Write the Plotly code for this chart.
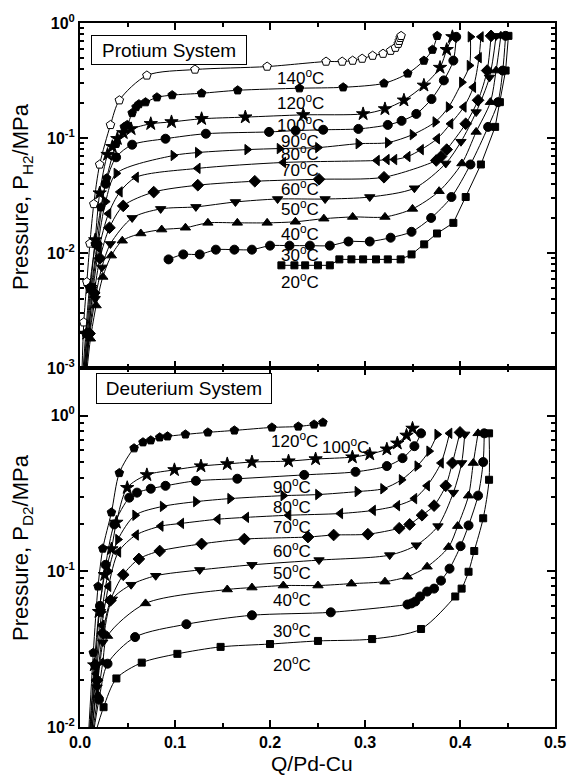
import plotly.graph_objects as go
import math

FONT = "Liberation Sans, Arial, sans-serif"

# ---------------- Protium system (top panel) ----------------
H140_q = [0.002, 0.004, 0.0072, 0.0104, 0.0145, 0.0207, 0.0321, 0.0414, 0.0704, 0.121, 0.197, 0.259, 0.276, 0.287, 0.297, 0.308, 0.319, 0.327, 0.332, 0.335, 0.336, 0.337, 0.338]
H140_p = [0.0009, 0.0025, 0.0056, 0.0121, 0.0267, 0.0589, 0.130, 0.213, 0.350, 0.394, 0.418, 0.462, 0.462, 0.471, 0.490, 0.520, 0.541, 0.574, 0.610, 0.660, 0.700, 0.743, 0.773]

H120_q = [0.003, 0.006, 0.010, 0.016, 0.022, 0.028, 0.038, 0.0466, 0.0497, 0.0549, 0.059, 0.062, 0.069, 0.081, 0.097, 0.128, 0.166, 0.231, 0.277, 0.320, 0.345, 0.362, 0.371, 0.376]
H120_p = [0.0009, 0.002, 0.005, 0.012, 0.025, 0.0447, 0.089, 0.125, 0.130, 0.165, 0.186, 0.197, 0.205, 0.226, 0.236, 0.245, 0.260, 0.271, 0.276, 0.299, 0.364, 0.471, 0.586, 0.773]

H100_q = [0.004, 0.007, 0.011, 0.016, 0.0207, 0.029, 0.034, 0.0393, 0.0455, 0.0538, 0.0745, 0.0963, 0.128, 0.174, 0.235, 0.298, 0.321, 0.341, 0.362, 0.379, 0.386, 0.392]
H100_p = [0.0009, 0.002, 0.005, 0.013, 0.0332, 0.0718, 0.084, 0.0986, 0.111, 0.120, 0.133, 0.138, 0.147, 0.152, 0.159, 0.162, 0.179, 0.213, 0.287, 0.410, 0.586, 0.758]

H90_q = [0.004, 0.008, 0.012, 0.018, 0.027, 0.038, 0.0549, 0.090, 0.1325, 0.199, 0.227, 0.256, 0.293, 0.324, 0.3385, 0.354, 0.370, 0.383, 0.393, 0.396]
H90_p = [0.0009, 0.002, 0.005, 0.012, 0.040, 0.068, 0.0875, 0.0986, 0.109, 0.113, 0.116, 0.118, 0.120, 0.130, 0.141, 0.162, 0.218, 0.317, 0.471, 0.758]

H80_q = [0.005, 0.009, 0.013, 0.019, 0.027, 0.0383, 0.0983, 0.124, 0.176, 0.210, 0.2505, 0.293, 0.324, 0.350, 0.374, 0.388, 0.402, 0.410, 0.411]
H80_p = [0.0009, 0.002, 0.005, 0.012, 0.028, 0.0493, 0.0705, 0.0748, 0.0793, 0.081, 0.0826, 0.0893, 0.0912, 0.107, 0.138, 0.186, 0.305, 0.427, 0.758]

H70_q = [0.005, 0.009, 0.014, 0.020, 0.030, 0.042, 0.059, 0.124, 0.214, 0.3126, 0.323, 0.331, 0.345, 0.359, 0.376, 0.390, 0.404, 0.414, 0.420, 0.422]
H70_p = [0.0009, 0.002, 0.005, 0.011, 0.022, 0.034, 0.0456, 0.0545, 0.0613, 0.0638, 0.065, 0.065, 0.069, 0.0793, 0.0986, 0.133, 0.186, 0.276, 0.500, 0.758]

H60_q = [0.006, 0.010, 0.015, 0.021, 0.031, 0.0455, 0.0776, 0.124, 0.184, 0.2516, 0.320, 0.375, 0.380, 0.386, 0.406, 0.419, 0.4286, 0.4327]
H60_p = [0.0009, 0.002, 0.0045, 0.009, 0.0166, 0.0257, 0.0339, 0.0389, 0.0421, 0.0438, 0.0456, 0.0638, 0.069, 0.0793, 0.133, 0.213, 0.386, 0.773]

H50_q = [0.006, 0.010, 0.016, 0.023, 0.032, 0.0549, 0.0849, 0.122, 0.1636, 0.208, 0.258, 0.305, 0.352, 0.385, 0.401, 0.417, 0.431, 0.438]
H50_p = [0.0009, 0.0019, 0.004, 0.0075, 0.012, 0.0202, 0.0242, 0.0252, 0.0278, 0.0295, 0.0295, 0.0307, 0.0366, 0.0601, 0.0929, 0.168, 0.336, 0.773]

H40_q = [0.007, 0.011, 0.017, 0.024, 0.033, 0.0445, 0.064, 0.086, 0.111, 0.1346, 0.1656, 0.197, 0.2267, 0.2567, 0.287, 0.321, 0.350, 0.378, 0.402, 0.417, 0.432, 0.438, 0.443]
H40_p = [0.0009, 0.0018, 0.0035, 0.0062, 0.0095, 0.0128, 0.0148, 0.016, 0.0166, 0.0183, 0.0183, 0.0183, 0.0187, 0.0199, 0.0206, 0.0206, 0.0242, 0.0345, 0.0601, 0.113, 0.205, 0.386, 0.773]

H30_q = [0.0932, 0.1087, 0.126, 0.143, 0.1625, 0.181, 0.200, 0.2205, 0.242, 0.263, 0.2826, 0.305, 0.327, 0.349, 0.3696, 0.391, 0.411, 0.4296, 0.440, 0.445, 0.448]
H30_p = [0.00881, 0.00973, 0.00973, 0.0107, 0.0107, 0.0107, 0.0116, 0.0116, 0.0116, 0.0116, 0.0126, 0.0126, 0.0136, 0.0153, 0.0202, 0.0307, 0.0589, 0.125, 0.205, 0.386, 0.773]

H20_q = [0.212, 0.2257, 0.237, 0.2505, 0.263, 0.273, 0.2857, 0.298, 0.3116, 0.324, 0.3375, 0.349, 0.3623, 0.3758, 0.393, 0.406, 0.422, 0.437, 0.442, 0.448, 0.451]
H20_p = [0.00782, 0.00782, 0.00782, 0.00782, 0.00782, 0.00881, 0.00881, 0.00881, 0.00881, 0.00881, 0.00881, 0.00973, 0.0119, 0.0148, 0.0183, 0.0307, 0.0589, 0.125, 0.205, 0.386, 0.773]

# ---------------- Deuterium system (bottom panel) ----------------
D120_q = [0.009, 0.014, 0.019, 0.024, 0.0331, 0.0414, 0.0569, 0.0663, 0.0745, 0.0839, 0.0921, 0.111, 0.1346, 0.1625, 0.202, 0.2298, 0.2464, 0.2557]
D120_p = [0.009, 0.03, 0.08, 0.14, 0.239, 0.428, 0.617, 0.674, 0.694, 0.725, 0.736, 0.757, 0.780, 0.803, 0.839, 0.851, 0.877, 0.903]

D100_q = [0.010, 0.015, 0.020, 0.026, 0.0331, 0.0383, 0.0497, 0.0704, 0.0994, 0.1273, 0.155, 0.181, 0.2195, 0.248, 0.2867, 0.305, 0.323, 0.334, 0.3437, 0.350]
D100_p = [0.009, 0.025, 0.055, 0.095, 0.139, 0.206, 0.344, 0.416, 0.448, 0.474, 0.489, 0.503, 0.510, 0.526, 0.541, 0.565, 0.608, 0.664, 0.746, 0.827]

D90_q = [0.010, 0.016, 0.021, 0.027, 0.036, 0.0518, 0.060, 0.0745, 0.090, 0.122, 0.1656, 0.236, 0.290, 0.323, 0.3395, 0.352, 0.359]
D90_p = [0.009, 0.025, 0.06, 0.11, 0.2, 0.297, 0.320, 0.339, 0.354, 0.381, 0.393, 0.416, 0.435, 0.474, 0.533, 0.636, 0.769]

D80_q = [0.011, 0.017, 0.023, 0.030, 0.040, 0.058, 0.087, 0.122, 0.158, 0.214, 0.2505, 0.292, 0.319, 0.3385, 0.355, 0.3675, 0.376]
D80_p = [0.009, 0.025, 0.055, 0.10, 0.16, 0.229, 0.261, 0.280, 0.293, 0.306, 0.311, 0.325, 0.339, 0.387, 0.474, 0.591, 0.757]

D70_q = [0.011, 0.017, 0.023, 0.030, 0.0404, 0.059, 0.085, 0.1066, 0.145, 0.175, 0.2195, 0.274, 0.3085, 0.334, 0.352, 0.3654, 0.380, 0.389]
D70_p = [0.009, 0.022, 0.045, 0.08, 0.133, 0.171, 0.195, 0.203, 0.216, 0.222, 0.229, 0.235, 0.246, 0.264, 0.293, 0.354, 0.496, 0.769]

D60_q = [0.012, 0.018, 0.024, 0.032, 0.0455, 0.062, 0.0839, 0.128, 0.173, 0.240, 0.267, 0.303, 0.336, 0.347, 0.360, 0.3727, 0.385, 0.392, 0.400]
D60_p = [0.009, 0.02, 0.04, 0.065, 0.095, 0.120, 0.135, 0.150, 0.161, 0.166, 0.171, 0.173, 0.189, 0.200, 0.229, 0.264, 0.354, 0.496, 0.780]

D50_q = [0.012, 0.018, 0.024, 0.034, 0.0538, 0.0797, 0.126, 0.181, 0.2516, 0.326, 0.354, 0.3768, 0.393, 0.4017, 0.405]
D50_p = [0.009, 0.018, 0.035, 0.066, 0.082, 0.0936, 0.102, 0.110, 0.118, 0.127, 0.147, 0.195, 0.320, 0.496, 0.757]

D40_q = [0.013, 0.019, 0.024, 0.029, 0.069, 0.155, 0.181, 0.214, 0.2505, 0.2857, 0.321, 0.3447, 0.3654, 0.388, 0.3975, 0.409, 0.414, 0.419]
D40_p = [0.009, 0.016, 0.026, 0.0384, 0.0622, 0.0764, 0.0786, 0.081, 0.081, 0.0833, 0.0858, 0.0923, 0.107, 0.143, 0.195, 0.306, 0.496, 0.769]

D30_q = [0.014, 0.020, 0.029, 0.058, 0.112, 0.181, 0.264, 0.3447, 0.349, 0.353, 0.358, 0.3654, 0.3727, 0.380, 0.389, 0.4006, 0.409, 0.419, 0.4244, 0.4255]
D30_p = [0.009, 0.015, 0.0255, 0.0378, 0.0457, 0.0522, 0.0545, 0.0612, 0.0622, 0.064, 0.0689, 0.0741, 0.0774, 0.0871, 0.104, 0.145, 0.197, 0.306, 0.503, 0.769]

D20_q = [0.016, 0.0248, 0.0383, 0.065, 0.1025, 0.148, 0.200, 0.2505, 0.3075, 0.359, 0.395, 0.4017, 0.409, 0.415, 0.4244, 0.4306, 0.4306]
D20_p = [0.009, 0.0134, 0.0205, 0.0259, 0.0295, 0.0327, 0.0341, 0.0357, 0.0367, 0.0426, 0.0689, 0.0774, 0.0993, 0.135, 0.219, 0.387, 0.769]

# temperature labels
top_labels = ["140", "120", "100", "90", "80", "70", "60", "50", "40", "30", "20"]
top_label_q = [0.232] * 11
top_label_p = [0.336, 0.205, 0.133, 0.0966, 0.0748, 0.0533, 0.0366, 0.0247, 0.0150, 0.00973, 0.0057]

bot_labels = ["120", "100", "90", "80", "70", "60", "50", "40", "30", "20"]
bot_label_q = [0.2257, 0.2795, 0.2236, 0.2236, 0.2236, 0.2236, 0.2236, 0.2236, 0.2236, 0.2236]
bot_label_p = [0.694, 0.635, 0.354, 0.261, 0.195, 0.137, 0.0993, 0.0668, 0.0419, 0.0255]

top_series = [
    (H140_q, H140_p, "pentagon", "white", 9),
    (H120_q, H120_p, "pentagon", "black", 9),
    (H100_q, H100_p, "star", "black", 10),
    (H90_q, H90_p, "circle", "black", 9),
    (H80_q, H80_p, "triangle-right", "black", 9),
    (H70_q, H70_p, "triangle-left", "black", 9),
    (H60_q, H60_p, "diamond", "black", 9),
    (H50_q, H50_p, "triangle-down", "black", 9),
    (H40_q, H40_p, "triangle-up", "black", 9),
    (H30_q, H30_p, "circle", "black", 9),
    (H20_q, H20_p, "square", "black", 7),
]
bot_series = [
    (D120_q, D120_p, "pentagon", "black", 9),
    (D100_q, D100_p, "star", "black", 10),
    (D90_q, D90_p, "circle", "black", 9),
    (D80_q, D80_p, "triangle-right", "black", 9),
    (D70_q, D70_p, "triangle-left", "black", 9),
    (D60_q, D60_p, "diamond", "black", 9),
    (D50_q, D50_p, "triangle-down", "black", 9),
    (D40_q, D40_p, "triangle-up", "black", 9),
    (D30_q, D30_p, "circle", "black", 9),
    (D20_q, D20_p, "square", "black", 7),
]

fig = go.Figure()

def add(series, xa, ya, linear_last=False):
    for i, (q, p, sym, fill, sz) in enumerate(series):
        shape = "spline"
        if linear_last and i == len(series) - 1:
            shape = "linear"
        fig.add_trace(go.Scatter(
            x=q, y=p, xaxis=xa, yaxis=ya, mode="lines+markers",
            line=dict(color="black", width=1, shape=shape, smoothing=0.8),
            marker=dict(symbol=sym, size=sz, color=fill, line=dict(color="black", width=1)),
            showlegend=False, hoverinfo="skip"))

add(top_series, "x", "y", linear_last=True)
add(bot_series, "x2", "y2")

# log-axis minor ticks
def minors(lo, hi):
    vals = []
    for e in range(lo, hi):
        for m in range(2, 10):
            vals.append(m * 10 ** e)
    return vals

axis_common = dict(showline=True, linewidth=2, linecolor="black", mirror="ticks",
                   ticks="inside", tickcolor="black", showgrid=False, zeroline=False)

BOUND = 363 / 712

fig.update_layout(
    width=578, height=778,
    margin=dict(l=80, r=15, t=15, b=51),
    paper_bgcolor="white", plot_bgcolor="white",
    font=dict(family=FONT, color="black", size=16),
    xaxis=dict(anchor="y", domain=[0, 1], range=[0, 0.5], showticklabels=False,
               tickvals=[0, 0.1, 0.2, 0.3, 0.4, 0.5], ticklen=7, tickwidth=1.5,
               minor=dict(tickvals=[0.05, 0.15, 0.25, 0.35, 0.45], ticks="inside", ticklen=4, tickcolor="black"),
               **axis_common),
    xaxis2=dict(anchor="y2", domain=[0, 1], range=[0, 0.5],
                tickvals=[0, 0.1, 0.2, 0.3, 0.4, 0.5],
                ticktext=["<b>0.0</b>", "<b>0.1</b>", "<b>0.2</b>", "<b>0.3</b>", "<b>0.4</b>", "<b>0.5</b>"],
                tickfont=dict(size=16), ticklen=7, tickwidth=1.5,
                minor=dict(tickvals=[0.05, 0.15, 0.25, 0.35, 0.45], ticks="inside", ticklen=4, tickcolor="black"),
                **axis_common),
    yaxis=dict(anchor="x", type="log", domain=[BOUND, 1], range=[-3, 0],
               tickvals=[0.001, 0.01, 0.1, 1],
               ticktext=["<b>10<sup>-3</sup></b>", "<b>10<sup>-2</sup></b>", "<b>10<sup>-1</sup></b>", "<b>10<sup>0</sup></b>"],
               tickfont=dict(size=16), ticklen=8, tickwidth=1.5,
               minor=dict(tickvals=minors(-3, 0), ticks="inside", ticklen=4, tickcolor="black"),
               **axis_common),
    yaxis2=dict(anchor="x2", type="log", domain=[0, BOUND], range=[-2, 0.305],
                tickvals=[0.01, 0.1, 1],
                ticktext=["<b>10<sup>-2</sup></b>", "<b>10<sup>-1</sup></b>", "<b>10<sup>0</sup></b>"],
                tickfont=dict(size=16), ticklen=8, tickwidth=1.5,
                minor=dict(tickvals=minors(-2, 1), ticks="inside", ticklen=4, tickcolor="black"),
                **axis_common),
)

ann = []
for lab, q, p in zip(top_labels, top_label_q, top_label_p):
    ann.append(dict(x=q, y=math.log10(p), xref="x", yref="y", text=lab + "<sup>o</sup>C",
                    showarrow=False, font=dict(size=17), xanchor="center", yanchor="middle"))
for lab, q, p in zip(bot_labels, bot_label_q, bot_label_p):
    ann.append(dict(x=q, y=math.log10(p), xref="x2", yref="y2", text=lab + "<sup>o</sup>C",
                    showarrow=False, font=dict(size=17), xanchor="center", yanchor="middle"))

# boxes
ann.append(dict(x=(170 - 80) / 483, y=1 - (42.5 - 15) / 712, xref="paper", yref="paper",
                text="Protium System", showarrow=False, font=dict(size=19),
                bordercolor="black", borderwidth=1, borderpad=3, width=148, height=22,
                bgcolor="white", xanchor="center", yanchor="middle"))
ann.append(dict(x=(185.5 - 80) / 483, y=1 - (385 - 15) / 712, xref="paper", yref="paper",
                text="Deuterium System", showarrow=False, font=dict(size=19),
                bordercolor="black", borderwidth=1, borderpad=3, width=168, height=23,
                bgcolor="white", xanchor="center", yanchor="middle"))

# axis titles
ann.append(dict(x=(21 - 80) / 483, y=1 - (190 - 15) / 712, xref="paper", yref="paper",
                text="Pressure, P<sub>H2</sub>/MPa", textangle=-90, showarrow=False,
                font=dict(size=22), xanchor="center", yanchor="middle"))
ann.append(dict(x=(21 - 80) / 483, y=1 - (545 - 15) / 712, xref="paper", yref="paper",
                text="Pressure, P<sub>D2</sub>/MPa", textangle=-90, showarrow=False,
                font=dict(size=22), xanchor="center", yanchor="middle"))
ann.append(dict(x=(316 - 80) / 483, y=-(764 - 727) / 712, xref="paper", yref="paper",
                text="Q/Pd-Cu", showarrow=False, font=dict(size=21),
                xanchor="center", yanchor="middle"))

fig.update_layout(annotations=ann)
fig.write_html("out.html")
